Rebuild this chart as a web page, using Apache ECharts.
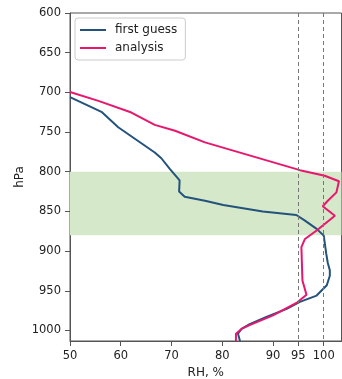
<!DOCTYPE html>
<html>
<head>
<meta charset="utf-8">
<script src="https://cdn.jsdelivr.net/npm/echarts@6/dist/echarts.min.js"></script>
<style>html,body{margin:0;padding:0;background:#fff}#c{width:342px;height:379px}</style>
</head>
<body>
<div id="c"></div>
<script>
const xTicks = [50, 60, 70, 80, 90, 95, 100];
const yTicks = [600, 650, 700, 750, 800, 850, 900, 950, 1000];
const fgRH = [50, 56.2, 59.5, 66.7, 68, 69.7, 71.6, 71.5, 72.6, 76.6, 80.2, 88, 94.6, 96.3, 98.6, 100, 100.5, 100.8, 101.2, 101.2, 100.6, 98.6, 95.3, 92.7, 88.7, 85.4, 83.8, 83.1, 83.5];
const fgP  = [706, 724.5, 744, 775.7, 783, 796.7, 811, 825, 831.5, 836.5, 842, 850, 854.5, 861.6, 872, 880.5, 903.5, 915, 924, 931, 943, 956, 964, 972.7, 983, 992, 998, 1004, 1013.25];
const anRH = [50, 55.6, 62.1, 66.7, 70.7, 76.6, 95.3, 100.2, 103, 102.5, 100.8, 99.8, 102.2, 98.6, 96.3, 95.6, 95.8, 96.6, 94.8, 90, 85.5, 83.8, 82.7, 82.7];
const anP  = [699.5, 710.7, 725.4, 741, 748.4, 763, 798, 805, 812, 826, 836.5, 843.5, 855.5, 874, 884.7, 895, 937, 955, 964.5, 981, 993, 998, 1004, 1013.25];
const band = [800, 880];
const refLines = [95, 100];
const names = ['first guess', 'analysis'];

const zip = (a, b) => a.map((v, i) => [v, b[i]]);
const font = 'DejaVu Sans';
const axisColor = '#555';

const chart = echarts.init(document.getElementById('c'), null, {renderer: 'canvas'});
chart.setOption({
  animation: false,
  grid: {left: 70, right: 0.5, top: 13, bottom: 38, containLabel: false, outerBoundsMode: 'none',
         show: true, borderColor: axisColor, borderWidth: 1, backgroundColor: 'transparent'},
  legend: {
    data: names, orient: 'vertical', left: 75, top: 18,
    backgroundColor: '#fff', borderColor: '#ccc', borderWidth: 1, borderRadius: 3,
    padding: [5, 8, 5, 5], itemGap: 4, itemWidth: 26, itemHeight: 2, icon: 'rect',
    textStyle: {fontFamily: font, fontSize: 12, color: '#222', lineHeight: 14, padding: [0, 0, 0, 4]}
  },
  xAxis: {
    type: 'value', min: 50, max: 103.5,
    name: 'RH, %', nameLocation: 'middle', nameGap: 26, nameMoveOverlap: false,
    nameTextStyle: {fontFamily: font, fontSize: 12, color: '#222'},
    axisLine: {show: true, lineStyle: {color: axisColor}},
    axisTick: {show: true, inside: false, length: 5, lineStyle: {color: axisColor}, customValues: xTicks},
    axisLabel: {fontFamily: font, fontSize: 11.5, color: '#222', margin: 9, customValues: xTicks, formatter: v => String(v)},
    splitLine: {show: false}
  },
  yAxis: {
    type: 'value', inverse: true, min: 600, max: 1013.25,
    name: 'hPa', nameLocation: 'middle', nameGap: 44, nameRotate: 90, nameMoveOverlap: false,
    nameTextStyle: {fontFamily: font, fontSize: 12, color: '#222'},
    axisLine: {show: true, lineStyle: {color: axisColor}},
    axisTick: {show: true, inside: false, length: 5, lineStyle: {color: axisColor}, customValues: yTicks},
    axisLabel: {fontFamily: font, fontSize: 11.5, color: '#222', margin: 9, customValues: yTicks, formatter: v => String(v)},
    splitLine: {show: false}
  },
  series: [
    {
      type: 'line', name: '_bg', data: [[50, 600]], showSymbol: false, silent: true, z: 1,
      lineStyle: {opacity: 0}, tooltip: {show: false},
      markArea: {silent: true, itemStyle: {color: '#d5e8c9'}, data: [[{yAxis: band[0]}, {yAxis: band[1]}]]},
      markLine: {silent: true, symbol: 'none', label: {show: false},
        lineStyle: {color: '#777', type: [4, 3], width: 1},
        data: refLines.map(v => ({xAxis: v}))}
    },
    {type: 'line', name: names[0], data: zip(fgRH, fgP), showSymbol: false, z: 3,
     lineStyle: {color: '#23527c', width: 2}, itemStyle: {color: '#23527c'}},
    {type: 'line', name: names[1], data: zip(anRH, anP), showSymbol: false, z: 4,
     lineStyle: {color: '#e8176e', width: 2}, itemStyle: {color: '#e8176e'}}
  ]
});
</script>
</body>
</html>
